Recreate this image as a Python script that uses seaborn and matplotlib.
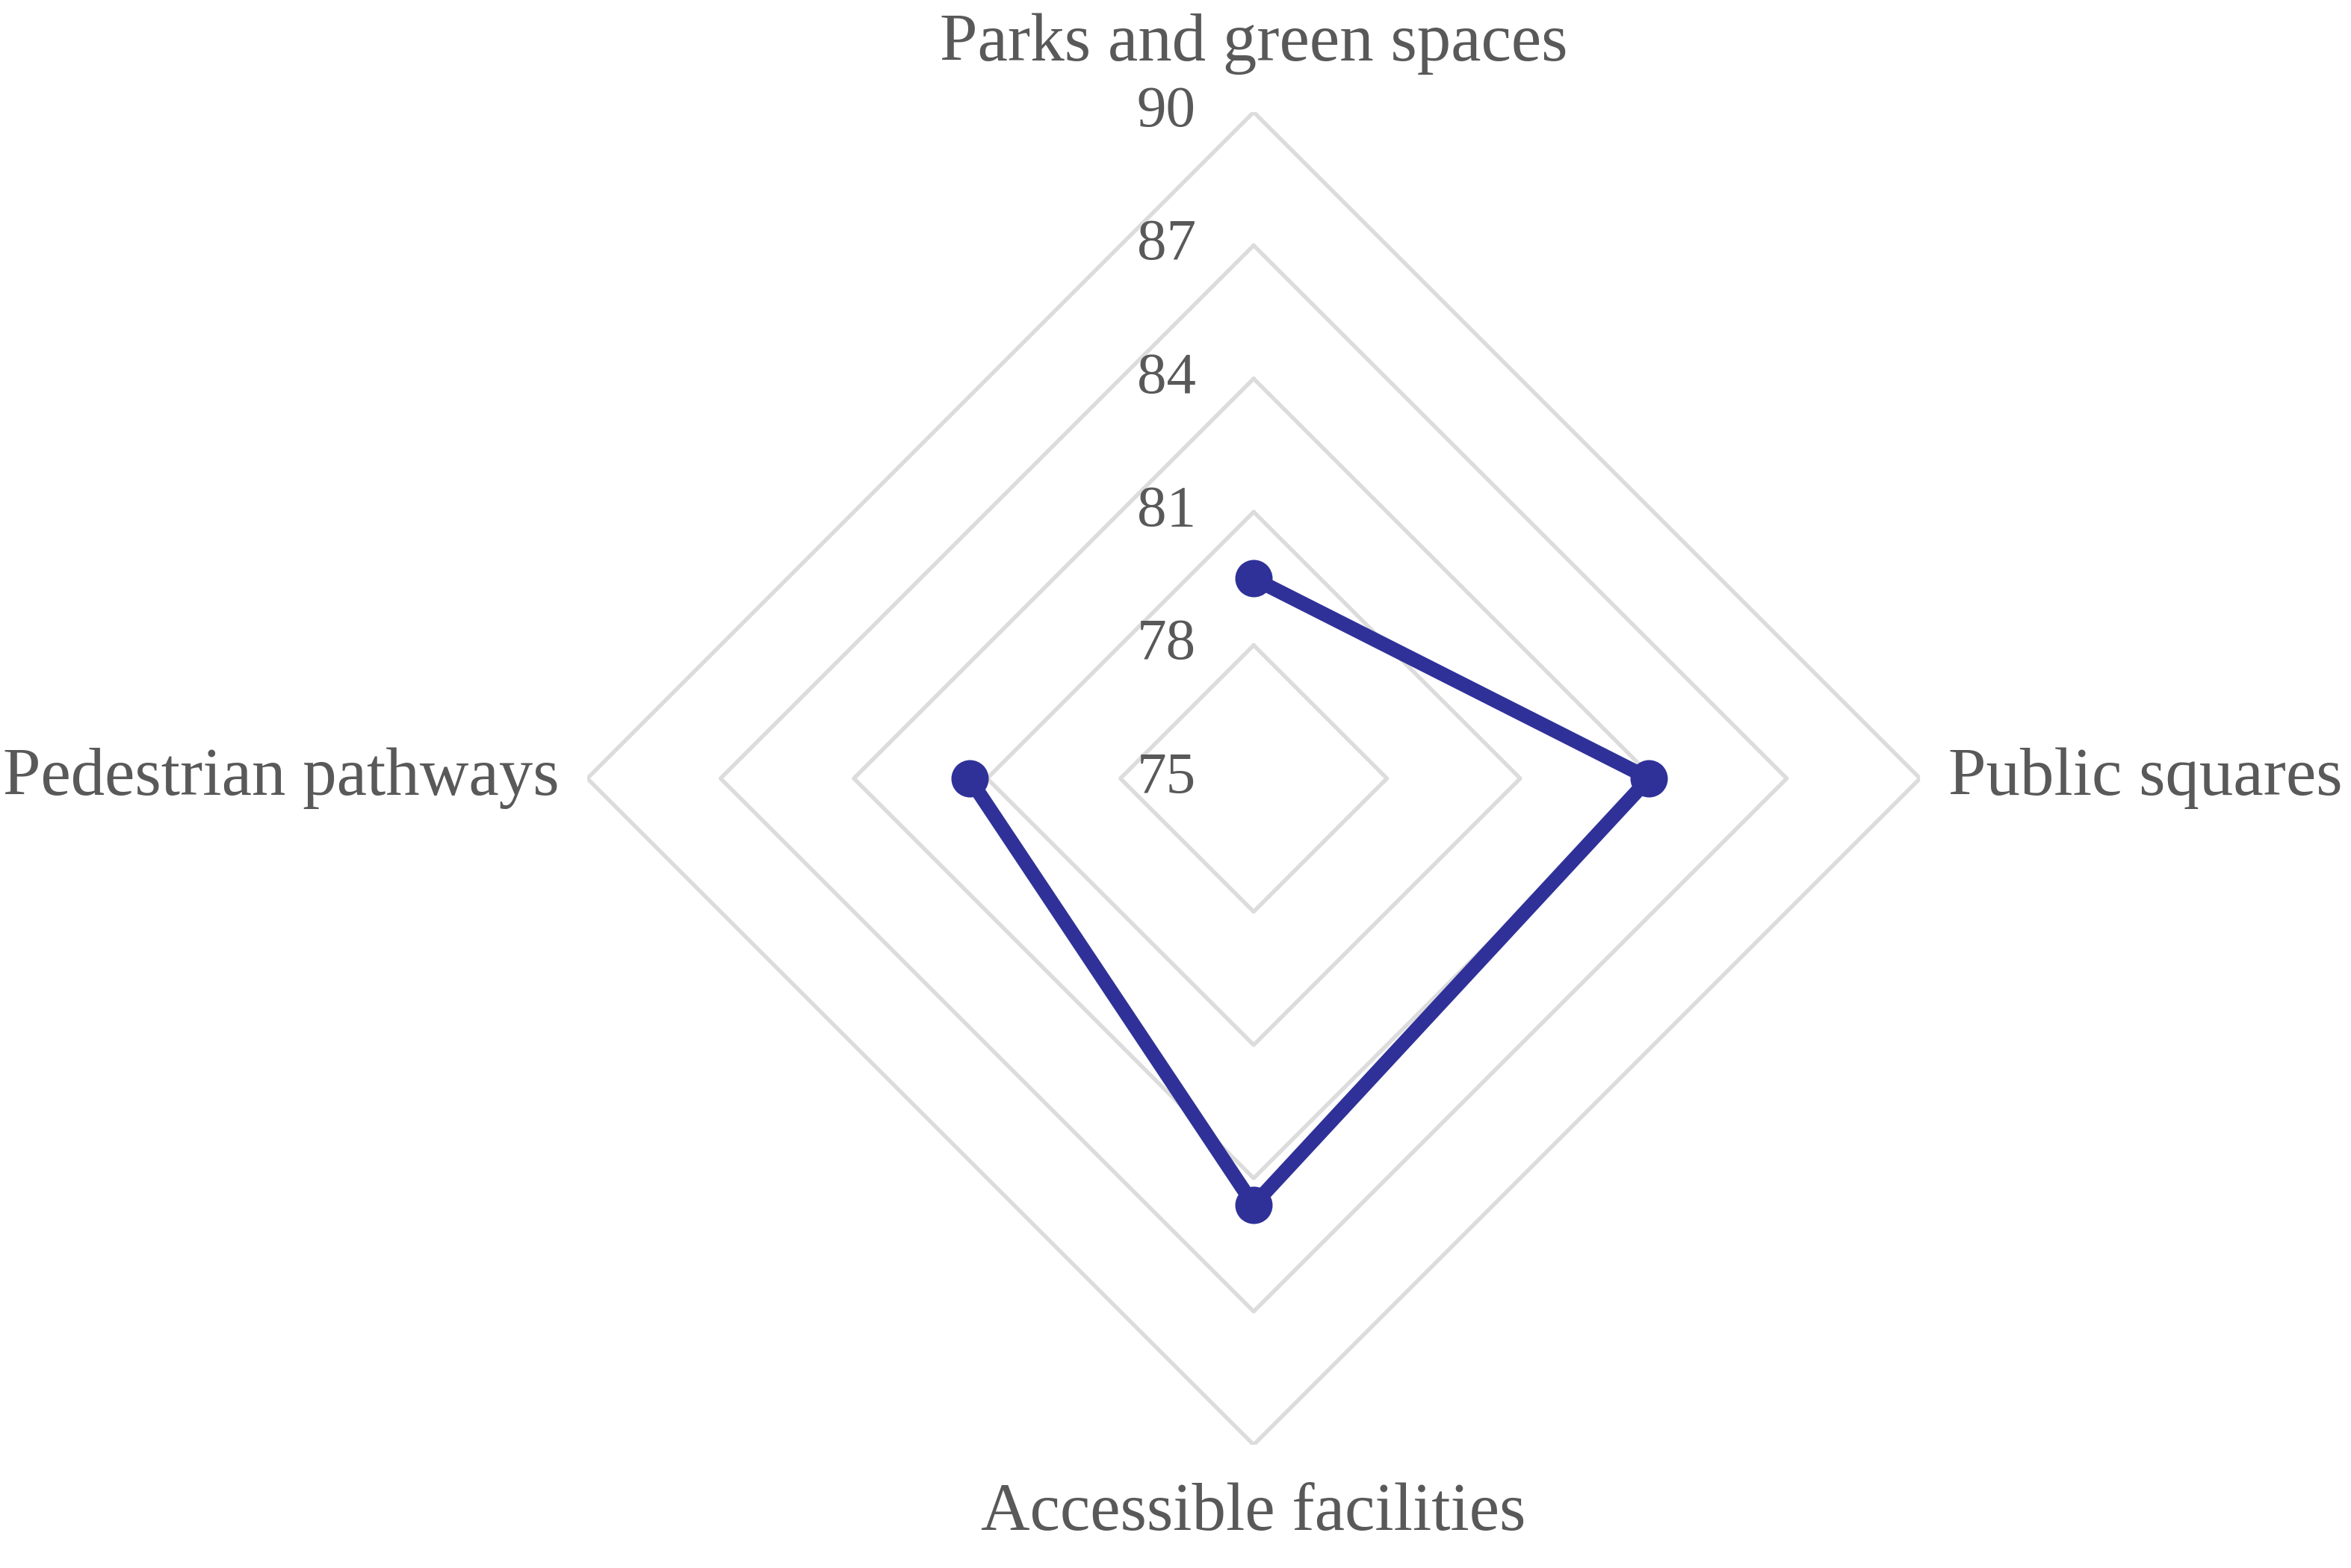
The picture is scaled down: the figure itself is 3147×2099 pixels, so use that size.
import numpy as np
import matplotlib
matplotlib.use("Agg")
import matplotlib.pyplot as plt
import matplotlib.transforms as mtransforms
import seaborn as sns

categories = ["Parks and green spaces", "Public squares", "Accessible facilities", "Pedestrian pathways"]
scores = [79.5, 83.9, 84.6, 81.4]
ring_levels = [75, 78, 81, 84, 87, 90]

sns.set_theme(style="white")
plt.rcParams["font.family"] = ["Liberation Serif", "DejaVu Serif"]

text_color = "#595959"
grid_color = "#dcdcdc"
line_color = "#2f3199"

fig = plt.figure(figsize=(3147 / 300, 2099 / 300), dpi=300)
ax = fig.add_axes([0.2498, 0.0786, 0.5669, 0.8499], projection="polar")
ax.set_theta_offset(np.pi / 2)
ax.set_theta_direction(-1)
ax.set_ylim(ring_levels[0], ring_levels[-1])

angles = np.linspace(0, 2 * np.pi, len(categories), endpoint=False)
closed_angles = np.append(angles, angles[0])

# polygon rings instead of circular grid
for level in ring_levels[1:]:
    ax.plot(closed_angles, [level] * len(closed_angles), color=grid_color, linewidth=1.3, zorder=1)

closed_scores = scores + scores[:1]
sns.lineplot(x=closed_angles, y=closed_scores, sort=False, ax=ax, color=line_color,
             linewidth=4.6, marker="o", markersize=12, markeredgewidth=0, zorder=3)

ax.grid(False)
ax.spines["polar"].set_visible(False)
ax.set_xticks([])
ax.set_yticks([])

# radial value labels, left of the top spoke
tick_trans = mtransforms.offset_copy(ax.transData, fig=fig, x=-28, y=0, units="points")
for level in ring_levels:
    ax.text(0, level, str(level), transform=tick_trans, ha="center", va="center",
            fontsize=19, color=text_color, zorder=2)

# category labels around the outer ring
offsets = [(0, 22, "center", "center"), (9, 0, "left", "center"),
           (0, -22, "center", "center"), (-9, 0, "right", "center")]
for ang, name, (dx, dy, ha, va) in zip(angles, categories, offsets):
    trans = mtransforms.offset_copy(ax.transData, fig=fig, x=dx, y=dy, units="points")
    ax.text(ang, ring_levels[-1], name, transform=trans, ha=ha, va=va,
            fontsize=21.8, color=text_color)

fig.savefig("out.png", dpi=300, facecolor="white")
